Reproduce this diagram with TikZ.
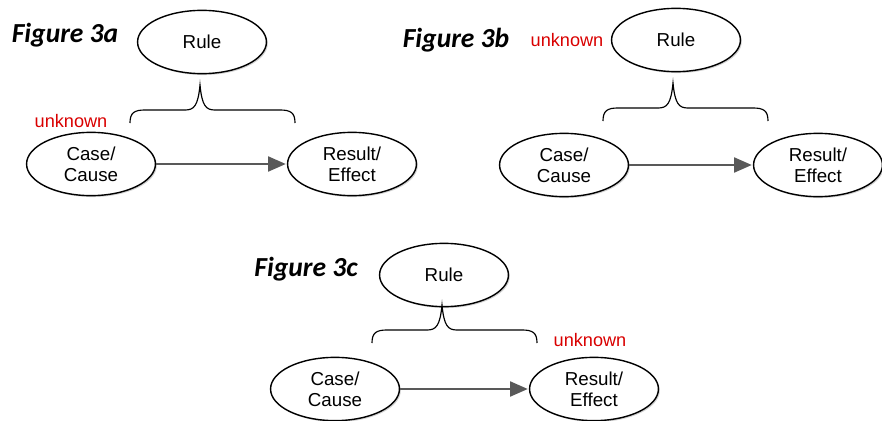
\documentclass[tikz,border=0pt]{standalone}
\usepackage{fontspec}
\setmainfont{Liberation Sans}
\newfontfamily\figfont{Carlito}
\usetikzlibrary{shapes.geometric,arrows.meta,shadows,positioning}

\tikzset{
  term/.style={ellipse, draw=black, line width=1.2pt, fill=white, inner sep=0pt,
    minimum width=110pt, minimum height=54pt, align=center,
    font=\fontsize{16}{18}\selectfont,
    drop shadow={opacity=0.35, shadow xshift=1.2pt, shadow yshift=-1.2pt}},
  figlabel/.style={font=\figfont\bfseries\itshape\fontsize{23.5}{25}\selectfont},
  unknownlabel/.style={text=red!85!black, font=\fontsize{15.5}{17.5}\selectfont},
  flow/.style={-{Triangle[length=15pt,width=13pt]}, draw=black!65, line width=1pt,
    shorten >=1pt},
  rulebrace/.pic={
    \draw[line width=1pt]
      (-70,13) .. controls (-70,3) and (-66,0) .. (-55,0)
      -- (-15,0) .. controls (-6,0) and (-2,-4) .. (0,-25)
      .. controls (2,-4) and (6,0) .. (15,0)
      -- (80,0) .. controls (91,0) and (95,3) .. (95,13);
  }
}

\begin{document}
\begin{tikzpicture}[x=0.03cm, y=-0.03cm]
   \useasboundingbox (0,0) rectangle (882,421);

   % Figure 3a
   \node[figlabel] (figA) at (65,35) {Figure 3a};
   \node[term] (ruleA) at (202,42) {Rule};
   \node[unknownlabel] (unkA) at (71,121) {unknown};
   \node[term] (caseA) at (91,164) {Case/\\Cause};
   \node[term] (resA) at (352,164) {Result/\\Effect};
   \pic at (200,110) {rulebrace};
   \draw[flow] (caseA) -- (resA);

   % Figure 3b
   \node[figlabel] (figB) at (456,40) {Figure 3b};
   \node[unknownlabel] (unkB) at (567,40) {unknown};
   \node[term] (ruleB) at (676,40) {Rule};
   \node[term] (caseB) at (564,165) {Case/\\Cause};
   \node[term] (resB) at (818,165) {Result/\\Effect};
   \pic at (673,108) {rulebrace};
   \draw[flow] (caseB) -- (resB);

   % Figure 3c
   \node[figlabel] (figC) at (306,269) {Figure 3c};
   \node[term] (ruleC) at (444,275) {Rule};
   \node[unknownlabel] (unkC) at (590,340) {unknown};
   \node[term] (caseC) at (335,389) {Case/\\Cause};
   \node[term] (resC) at (594,389) {Result/\\Effect};
   \pic at (442,330) {rulebrace};
   \draw[flow] (caseC) -- (resC);
\end{tikzpicture}
\end{document}
